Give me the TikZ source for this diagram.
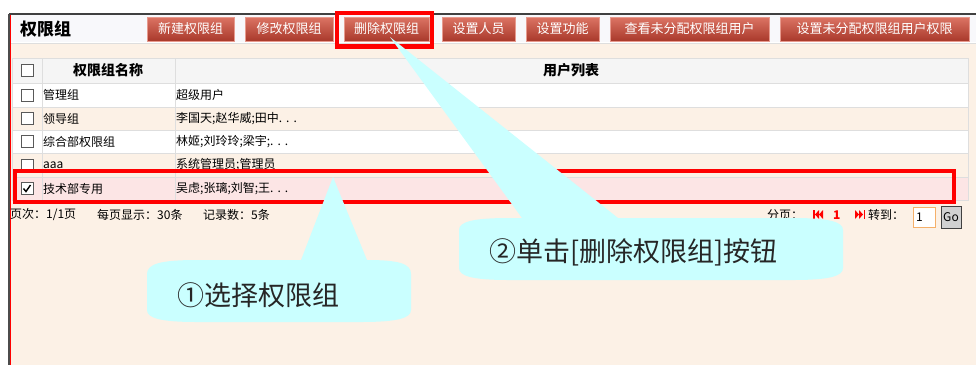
\documentclass[tikz,border=0pt]{standalone}
\usepackage{fontspec}
\setmainfont{Noto Sans CJK SC}
\definecolor{btntop}{HTML}{DC7464}
\definecolor{btnbot}{HTML}{A9392B}
\definecolor{btnedge}{HTML}{E79A8E}
\definecolor{peach}{HTML}{FCF1E6}
\definecolor{pinkrow}{HTML}{FCE5E5}
\definecolor{hdrgray}{HTML}{F5F5F5}
\definecolor{titlebg}{HTML}{F8F8FB}
\definecolor{gridline}{HTML}{DEDEDE}
\definecolor{tipcyan}{HTML}{CAFFFF}
\definecolor{boxorange}{HTML}{F5B06A}
\newcommand{\dotsgap}{.\,\,.\,\,.}
\begin{document}
\begin{tikzpicture}[x=1pt,y=-1pt,
    btn/.style={draw=btnedge, top color=btntop, bottom color=btnbot, text=white,
        minimum height=24pt, inner sep=0pt, font=\fontsize{13}{13}\selectfont},
    cell/.style={anchor=west, inner sep=0pt, font=\fontsize{12}{12}\selectfont},
    chkbox/.style={draw=gray!70!black, fill=white, minimum size=12pt, inner sep=0pt},
    hilite/.style={draw=red, line width=4pt},
    tiptext/.style={inner sep=0pt, text=black!85, font=\fontsize{27}{27}\selectfont}]
    \useasboundingbox (0,0) rectangle (976,365);
    \fill[white] (0,0) rectangle (976,365);
    % panel
    \fill[titlebg] (10,15) rectangle (976,42);
    \fill[peach] (11,43) rectangle (976,365);
    \draw[gridline] (11,43) -- (976,43);
    \draw[black!75, line width=2pt] (9,14) -- (976,14);
    \draw[black!70, line width=2pt] (9,14) -- (9,365);
    \draw[red, line width=1pt] (10.8,15) -- (10.8,365);
    \node[anchor=west, inner sep=0pt, font=\fontsize{17}{17}\selectfont\bfseries] (title) at (20,29) {权限组};
    % buttons
    \node[btn, minimum width=87pt] (bnew) at (190.5,29) {新建权限组};
    \node[btn, minimum width=88pt] (bedit) at (289,29) {修改权限组};
    \node[btn, minimum width=85pt] (bdel) at (386.5,29) {删除权限组};
    \node[btn, minimum width=73pt] (busers) at (478.5,29) {设置人员};
    \node[btn, minimum width=73pt] (bfunc) at (562.5,29) {设置功能};
    \node[btn, minimum width=159pt] (bview) at (689.5,29) {查看未分配权限组用户};
    \node[btn, minimum width=189pt] (bset) at (874.5,29) {设置未分配权限组用户权限};
    % table
    \fill[hdrgray] (12,58) rectangle (968,83);
    \fill[white] (12,83) rectangle (968,107);
    \fill[peach] (12,107) rectangle (968,130);
    \fill[white] (12,130) rectangle (968,153);
    \fill[peach] (12,153) rectangle (968,177);
    \fill[pinkrow] (12,177) rectangle (968,200);
    \draw[gridline] (12,58) rectangle (968,200);
    \foreach \y in {83,107,130,153,177}
        \draw[gridline] (12,\y) -- (968,\y);
    \draw[gridline] (42,58) -- (42,200);
    \draw[gridline] (175,58) -- (175,200);
    \node[chkbox] (c0) at (27,70.5) {};
    \node[chkbox] (c1) at (27,95) {};
    \node[chkbox] (c2) at (27,118.5) {};
    \node[chkbox] (c3) at (27,141.5) {};
    \node[chkbox] (c4) at (27,165) {};
    \node[chkbox] (c5) at (27,188.5) {};
    \draw[line width=1.4pt] (c5.center) ++(-3.5,0) -- ++(2.5,3) -- ++(4.5,-6.5);
    \node[inner sep=0pt, font=\fontsize{14}{14}\selectfont\bfseries] (hname) at (108,70.5) {权限组名称};
    \node[inner sep=0pt, font=\fontsize{14}{14}\selectfont\bfseries] (husers) at (571,70.5) {用户列表};
    \node[cell] (n1) at (43,95) {管理组};
    \node[cell] (u1) at (176,95) {超级用户};
    \node[cell] (n2) at (43,118.5) {领导组};
    \node[cell] (u2) at (176,118.5) {李国天;赵华威;田中\dotsgap};
    \node[cell] (n3) at (43,141.5) {综合部权限组};
    \node[cell] (u3) at (176,141.5) {林姬;刘玲玲;梁宇;\dotsgap};
    \node[cell] (n4) at (43,165) {aaa};
    \node[cell] (u4) at (176,165) {系统管理员;管理员};
    \node[cell] (n5) at (43,188.5) {技术部专用};
    \node[cell] (u5) at (176,188.5) {吴虑;张璃;刘智;王\dotsgap};
    % pager
    \node[cell] (pages) at (10,215) {页次：1/1页};
    \node[cell] (perpage) at (97,215) {每页显示：30条};
    \node[cell] (records) at (203,215) {记录数：5条};
    \node[cell] (split) at (767,215) {分页：};
    \fill[red] (813,210) rectangle (814.5,219);
    \fill[red] (815,214.5) -- (819,210) -- (819,219) -- cycle;
    \fill[red] (819,214.5) -- (823,210) -- (823,219) -- cycle;
    \node[cell, text=red, font=\fontsize{12}{12}\selectfont\bfseries] (pnum) at (833,215) {1};
    \fill[red] (855,210) -- (859,214.5) -- (855,219) -- cycle;
    \fill[red] (859,210) -- (863,214.5) -- (859,219) -- cycle;
    \fill[red] (863.5,210) rectangle (865,219);
    \node[cell] (goto) at (868,215) {转到：};
    \draw[boxorange, fill=white] (913,207) rectangle (935,227);
    \node[cell] (pinput) at (916,217) {1};
    \draw[black!75, fill=black!18] (941,206) rectangle (961,228);
    \node[inner sep=0pt, font=\fontsize{12}{12}\selectfont] (go) at (951,217) {Go};
    % highlights
    \draw[hilite, line width=4.5pt] (337,13) rectangle (432,46.5);
    \draw[hilite] (15,171) rectangle (954,202);
    % callouts
    \fill[tipcyan] (147,274) .. controls (147,264) and (160,260) .. (197,260) -- (301,260) -- (333,177)
        -- (367,260) .. controls (400,260) and (411,264) .. (411,274) -- (411,310)
        .. controls (411,318) and (398,322) .. (361,322) -- (197,322) .. controls (160,322) and (147,318) .. (147,310) -- cycle;
    \fill[tipcyan] (459,230) .. controls (459,222) and (472,218) .. (509,218) -- (522,218) -- (390,37)
        -- (618,218) -- (793,218) .. controls (830,218) and (843,222) .. (843,230) -- (843,268)
        .. controls (843,276) and (830,280) .. (793,280) -- (509,280) .. controls (472,280) and (459,276) .. (459,268) -- cycle;
    \node[tiptext] (tip1) at (258,295) {①选择权限组};
    \node[tiptext, anchor=west] (tip2) at (489,252) {②单击[删除权限组]按钮};
\end{tikzpicture}
\end{document}
